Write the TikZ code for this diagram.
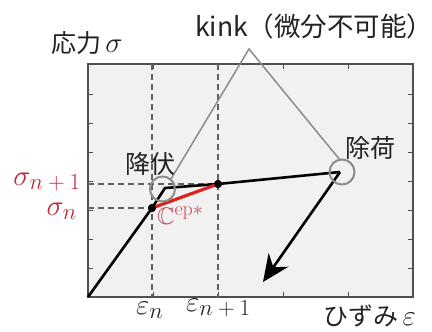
\RequirePackage{fix-cm}
\documentclass[tikz,border=0pt]{standalone}
\usepackage[no-math]{fontspec}
\usepackage{amssymb}
\newfontfamily\jp{Noto Sans CJK JP}
\usetikzlibrary{arrows.meta}
\definecolor{boxfill}{HTML}{F1F1F1}
\definecolor{boxline}{HTML}{505050}
\definecolor{dashc}{HTML}{606060}
\definecolor{callc}{HTML}{8C8C8C}
\definecolor{labred}{HTML}{C0283A}
\definecolor{linered}{HTML}{E0201E}
\definecolor{txt}{HTML}{222222}
\newcommand{\sz}[2]{\mbox{\fontsize{#1}{#1}\selectfont$#2$}}
\begin{document}
\begin{tikzpicture}[x=1pt,y=-1pt,
  plotbox/.style={draw=boxline,fill=boxfill,line width=1.5pt},
  tick/.style={draw=boxline,line width=1pt},
  guide/.style={draw=dashc,line width=1.4pt,dash pattern=on 6pt off 4pt},
  curve/.style={draw=black,line width=2.6pt,line join=round},
  ring/.style={draw=callc,line width=2pt},
  callout/.style={draw=callc,line width=1.5pt},
  jplabel/.style={font=\jp\fontsize{25}{28}\selectfont,text=txt,inner sep=0pt},
  mlabel/.style={inner sep=0pt,font=\fontsize{29}{32}\selectfont},
  dot/.style={circle,fill=black,inner sep=0pt,minimum size=8pt}]
\useasboundingbox (0,0) rectangle (432,332);
% plot box
\path[plotbox] (88,64) rectangle (413,297);
\foreach \x in {153,218,283,348} {
  \path[tick] (\x,64) -- (\x,69);
  \path[tick] (\x,297) -- (\x,292);
}
\foreach \y in {94,123,152,181,210,239,268} {
  \path[tick] (88,\y) -- (93,\y);
  \path[tick] (413,\y) -- (408,\y);
}
% named points
\coordinate (O) at (88,297);
\node[dot] (pn) at (152,208) {};
\node[dot] (pn1) at (218,184) {};
\coordinate (kink) at (165,188);
\coordinate (unl) at (340,172);
\coordinate (tip) at (263,282);
\coordinate (apex) at (249,49);
\coordinate (ktop) at (171,179);
\coordinate (utop) at (340,160);
\coordinate (xn) at (152,64);
\coordinate (xnb) at (152,297);
\coordinate (xn1) at (218,64);
\coordinate (xn1b) at (218,297);
\coordinate (yn) at (88,208);
\coordinate (yn1) at (88,184);
% dashed guides
\path[guide] (xn) -- (xnb);
\path[guide] (xn1) -- (xn1b);
\path[guide] (yn1) -- (pn1.center);
\path[guide] (yn) -- (pn.center);
% callout lines
\path[callout] (ktop) -- (apex) -- (utop);
% curve
\path[curve] (O) -- (pn.center) -- (kink) -- (pn1.center) -- (unl);
\path[draw=black,line width=2.6pt,-{Stealth[length=27pt,width=24pt,inset=9pt]}] (unl) -- (tip);
\path[draw=linered,line width=3.2pt] (pn.center) -- (pn1.center);
\node[dot] at (pn) {};
\node[dot] at (pn1) {};
% rings
\node[ring,circle,minimum size=25pt,inner sep=0pt] (r1) at (162.5,189) {};
\node[ring,circle,minimum size=25pt,inner sep=0pt] (r2) at (342,172) {};
% labels
\node[jplabel,anchor=west,font=\jp\fontsize{26.5}{30}\selectfont] (kl) at (195,26) {kink（微分不可能）};
\node[jplabel,anchor=west] (sl) at (51,43) {応力\,\fontsize{29}{32}\selectfont$\sigma$};
\node[jplabel] (yl) at (150,164) {降伏};
\node[jplabel] (ul) at (370,148) {除荷};
\node[jplabel,anchor=east] (el) at (416,316) {ひずみ\,\fontsize{29}{32}\selectfont$\varepsilon$};
\node[mlabel,anchor=base east,text=labred] (s1) at (81,185) {$\sigma_{\sz{23}{n+1}}$};
\node[mlabel,anchor=base east,text=labred] (s0) at (77,215) {$\sigma_{\sz{23}{n}}$};
\node[mlabel,anchor=base west,text=txt] (e0) at (136,314) {$\varepsilon_{\sz{23}{n}}$};
\node[mlabel,anchor=base west,text=txt] (e1) at (186,311) {$\varepsilon_{\sz{23}{n+1}}$};
\node[inner sep=0pt,anchor=base west,text=labred!85!white,font=\fontsize{24}{26}\selectfont] (cep) at (157,224) {$\mathbb{C}^{\sz{20}{\mathrm{ep}*}}$};
\end{tikzpicture}
\end{document}
